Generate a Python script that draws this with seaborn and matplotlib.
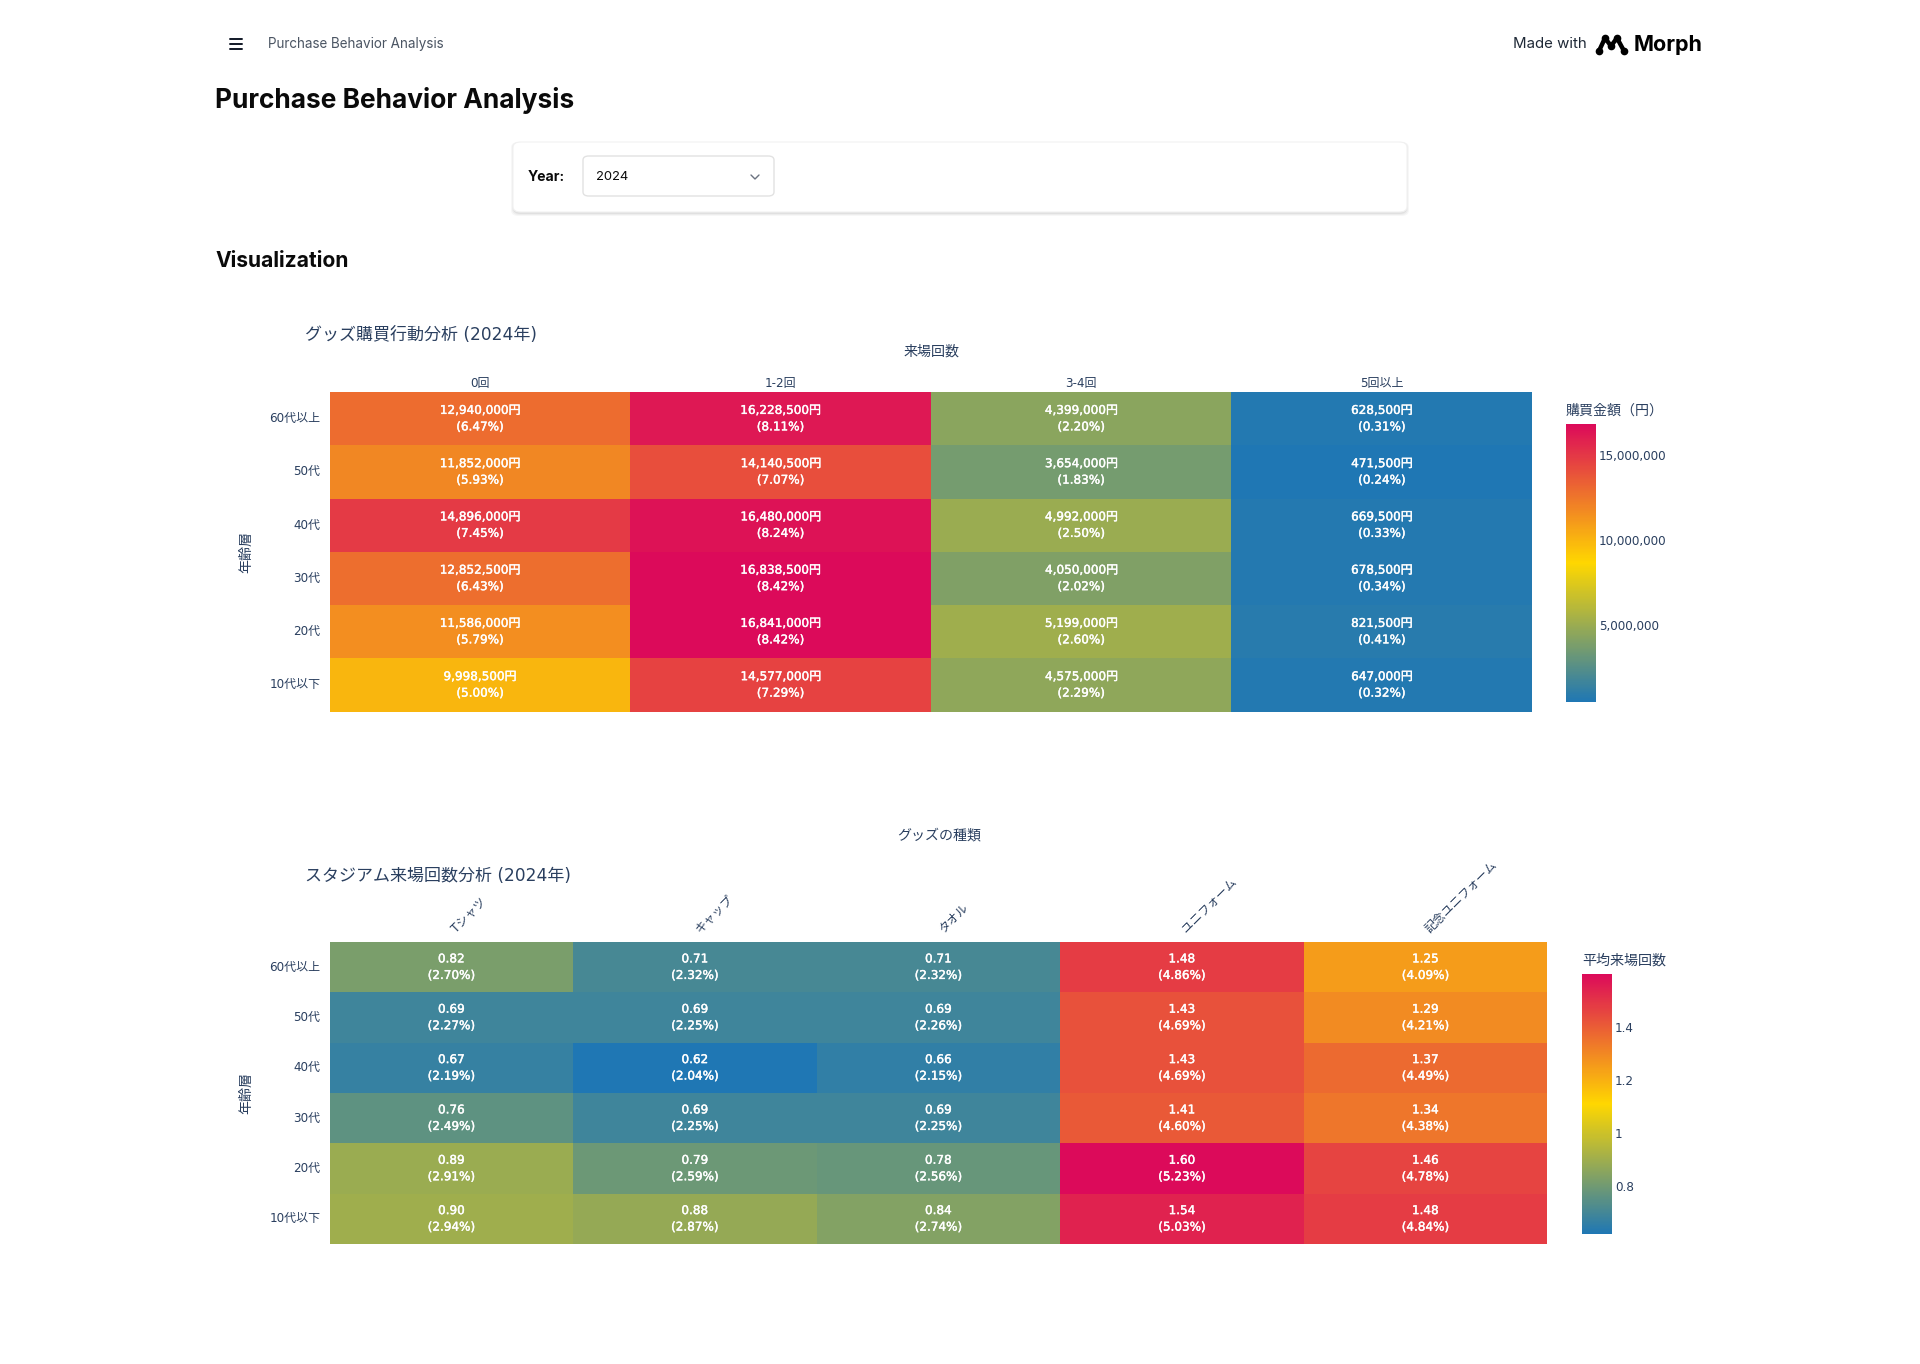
import numpy as np
import pandas as pd
import matplotlib
matplotlib.use("Agg")
import matplotlib.pyplot as plt
import seaborn as sns
from matplotlib.colors import LinearSegmentedColormap
from matplotlib.patches import FancyBboxPatch
from matplotlib.lines import Line2D
from matplotlib.ticker import FuncFormatter
from matplotlib.transforms import ScaledTranslation
import matplotlib.patheffects as pe

# ---------------- data ----------------
age_groups = ['60代以上', '50代', '40代', '30代', '20代', '10代以下']
visit_bins = ['0回', '1-2回', '3-4回', '5回以上']
purchase_amount = [
    [12940000, 16228500, 4399000, 628500],
    [11852000, 14140500, 3654000, 471500],
    [14896000, 16480000, 4992000, 669500],
    [12852500, 16838500, 4050000, 678500],
    [11586000, 16841000, 5199000, 821500],
    [9998500, 14577000, 4575000, 647000],
]
purchase_pct = [
    [6.47, 8.11, 2.20, 0.31],
    [5.93, 7.07, 1.83, 0.24],
    [7.45, 8.24, 2.50, 0.33],
    [6.43, 8.42, 2.02, 0.34],
    [5.79, 8.42, 2.60, 0.41],
    [5.00, 7.29, 2.29, 0.32],
]
goods_types = ['Tシャツ', 'キャップ', 'タオル', 'ユニフォーム', '記念ユニフォーム']
avg_visits = [
    [0.82, 0.71, 0.71, 1.48, 1.25],
    [0.69, 0.69, 0.69, 1.43, 1.29],
    [0.67, 0.62, 0.66, 1.43, 1.37],
    [0.76, 0.69, 0.69, 1.41, 1.34],
    [0.89, 0.79, 0.78, 1.60, 1.46],
    [0.90, 0.88, 0.84, 1.54, 1.48],
]
visits_pct = [
    [2.70, 2.32, 2.32, 4.86, 4.09],
    [2.27, 2.25, 2.26, 4.69, 4.21],
    [2.19, 2.04, 2.15, 4.69, 4.49],
    [2.49, 2.25, 2.25, 4.60, 4.38],
    [2.91, 2.59, 2.56, 5.23, 4.78],
    [2.94, 2.87, 2.74, 5.03, 4.84],
]
amount_ticks = [5000000, 10000000, 15000000]
visit_ticks = [0.8, 1.0, 1.2, 1.4]

# ---------------- style ----------------
sns.set_theme(style="white")
plt.rcParams['font.family'] = ['DejaVu Sans', 'Noto Sans CJK JP']
TXT = '#2a3f5f'
W, H = 1920, 1364
fig = plt.figure(figsize=(W / 100, H / 100), dpi=100)
fig.patch.set_facecolor('white')


def fx(px):
    return px / W


def fy(py):
    return 1 - py / H


def pt(px):
    return px * 0.72


cmap = LinearSegmentedColormap.from_list('custom', ['#1f77b4', '#FFD700', '#DC0A5A'])
ui_font = ['Inter', 'DejaVu Sans']
cell_fx = [pe.withStroke(linewidth=0.3, foreground='white')]

# ---------------- page chrome ----------------
for yy in (39, 44, 49):
    fig.add_artist(Line2D([fx(230), fx(242)], [fy(yy), fy(yy)], color='#111827', lw=1.4,
                          transform=fig.transFigure))
fig.text(fx(268), fy(44), 'Purchase Behavior Analysis', fontsize=pt(13.5), color='#4b5563',
         family=ui_font, va='center', ha='left')
fig.text(fx(1587), fy(44), 'Made with', fontsize=pt(15), color='#1f2937',
         family=ui_font, va='center', ha='right')
# Morph logo
logo_x = [1599, 1605, 1611, 1617, 1624]
logo_y = [51, 38, 46, 38, 51]
fig.add_artist(Line2D([fx(v) for v in logo_x], [fy(v) for v in logo_y], color='#000000', lw=3.2,
                      solid_capstyle='round', solid_joinstyle='round', marker='o', markersize=4.5,
                      transform=fig.transFigure))
fig.text(fx(1634), fy(45), 'Morph', fontsize=pt(21.5), color='#000000', weight='bold',
         family=ui_font, va='center', ha='left')

fig.text(fx(215), fy(101), 'Purchase Behavior Analysis', fontsize=pt(26.3), color='#0a0a0a',
         weight='bold', family=ui_font, va='center', ha='left')

# year card with shadow
for i, a in enumerate([0.05, 0.04, 0.03]):
    sh = FancyBboxPatch((fx(513 - i), fy(214 + i)), fx(894 + 2 * i), (72 + i) / H,
                        boxstyle='round,pad=0,rounding_size=0.004', transform=fig.transFigure,
                        facecolor='black', edgecolor='none', alpha=a)
    fig.add_artist(sh)
card = FancyBboxPatch((fx(513), fy(212)), fx(894), 70 / H,
                      boxstyle='round,pad=0,rounding_size=0.004', transform=fig.transFigure,
                      facecolor='white', edgecolor='#f1f1f1', lw=0.8)
fig.add_artist(card)
fig.text(fx(528), fy(177), 'Year:', fontsize=pt(14), weight='bold', color='#0a0a0a',
         family=ui_font, va='center', ha='left')
sel = FancyBboxPatch((fx(583), fy(196)), fx(191), 40 / H,
                     boxstyle='round,pad=0,rounding_size=0.003', transform=fig.transFigure,
                     facecolor='white', edgecolor='#e2e2e2', lw=1.0)
fig.add_artist(sel)
fig.text(fx(596), fy(177), '2024', fontsize=pt(13), color='#0a0a0a',
         family=ui_font, va='center', ha='left')
fig.add_artist(Line2D([fx(751), fx(755), fx(759)], [fy(175), fy(179), fy(175)],
                      color='#6b7280', lw=1.0, transform=fig.transFigure))

fig.text(fx(215), fy(261), 'Visualization', fontsize=pt(21), color='#0a0a0a',
         weight='bold', family=ui_font, va='center', ha='left')

# ---------------- heatmap 1 ----------------
ax1 = fig.add_axes([fx(329.5), fy(711.5), (1532 - 329.5) / W, (711.5 - 392) / H])
cax1 = fig.add_axes([fx(1566), fy(702), 30 / W, (702 - 424) / H])
df1 = pd.DataFrame(purchase_amount, index=age_groups, columns=visit_bins)
lab1 = np.array([[f"{v:,}円\n({p:.2f}%)" for v, p in zip(rv, rp)]
                 for rv, rp in zip(purchase_amount, purchase_pct)])
sns.heatmap(df1, ax=ax1, cmap=cmap, annot=lab1, fmt='', cbar_ax=cax1,
            vmin=df1.values.min(), vmax=df1.values.max(),
            annot_kws={'color': 'white', 'fontsize': pt(12), 'linespacing': 1.35,
                       'path_effects': cell_fx},
            cbar_kws={'ticks': amount_ticks})
ax1.xaxis.tick_top()
ax1.tick_params(axis='both', length=0, labelsize=pt(12), labelcolor=TXT)
ax1.tick_params(axis='x', pad=1.5)
ax1.tick_params(axis='y', pad=6.5)
plt.setp(ax1.get_yticklabels(), rotation=0)
plt.setp(ax1.get_xticklabels(), rotation=0)
ax1.set_xlabel('')
ax1.set_ylabel('')
cb1 = ax1.collections[0].colorbar
cb1.outline.set_visible(False)
cax1.tick_params(length=0, pad=2.2, labelsize=pt(12), labelcolor=TXT)
cax1.yaxis.set_major_formatter(FuncFormatter(lambda v, p: f"{int(round(v)):,}"))
fig.text(fx(1566), fy(411), '購買金額（円）', fontsize=pt(14), color=TXT, va='center', ha='left')
fig.text(fx(305), fy(335), 'グッズ購買行動分析 (2024年)', fontsize=pt(17), color=TXT,
         va='center', ha='left')
fig.text(fx(931), fy(352), '来場回数', fontsize=pt(14), color=TXT, va='center', ha='center')
fig.text(fx(246), fy(552), '年齢層', fontsize=pt(14), color=TXT, va='center', ha='center',
         rotation=90)

# ---------------- heatmap 2 ----------------
ax2 = fig.add_axes([fx(329.5), fy(1244), (1547 - 329.5) / W, (1244 - 942) / H])
cax2 = fig.add_axes([fx(1582), fy(1234), 30 / W, (1234 - 974) / H])
df2 = pd.DataFrame(avg_visits, index=age_groups, columns=goods_types)
lab2 = np.array([[f"{v:.2f}\n({p:.2f}%)" for v, p in zip(rv, rp)]
                 for rv, rp in zip(avg_visits, visits_pct)])
sns.heatmap(df2, ax=ax2, cmap=cmap, annot=lab2, fmt='', cbar_ax=cax2,
            vmin=df2.values.min(), vmax=df2.values.max(),
            annot_kws={'color': 'white', 'fontsize': pt(12), 'linespacing': 1.35,
                       'path_effects': cell_fx},
            cbar_kws={'ticks': visit_ticks})
ax2.xaxis.tick_top()
ax2.tick_params(axis='both', length=0, labelsize=pt(12), labelcolor=TXT)
ax2.tick_params(axis='x', pad=5)
ax2.tick_params(axis='y', pad=6.5)
plt.setp(ax2.get_yticklabels(), rotation=0)
plt.setp(ax2.get_xticklabels(), rotation=45, ha='left', va='bottom', rotation_mode='anchor')
shift = ScaledTranslation(7 / 100, 0, fig.dpi_scale_trans)
for lbl in ax2.get_xticklabels():
    lbl.set_transform(lbl.get_transform() + shift)
ax2.set_xlabel('')
ax2.set_ylabel('')
cb2 = ax2.collections[0].colorbar
cb2.outline.set_visible(False)
cax2.tick_params(length=0, pad=2.2, labelsize=pt(12), labelcolor=TXT)
cax2.yaxis.set_major_formatter(FuncFormatter(lambda v, p: f"{v:g}"))
fig.text(fx(1582), fy(961), '平均来場回数', fontsize=pt(14), color=TXT, va='center', ha='left')
fig.text(fx(305), fy(876), 'スタジアム来場回数分析 (2024年)', fontsize=pt(17), color=TXT,
         va='center', ha='left')
fig.text(fx(939), fy(835), 'グッズの種類', fontsize=pt(14), color=TXT, va='center', ha='center')
fig.text(fx(246), fy(1093), '年齢層', fontsize=pt(14), color=TXT, va='center', ha='center',
         rotation=90)

fig.savefig('out.png', dpi=100, facecolor='white')
